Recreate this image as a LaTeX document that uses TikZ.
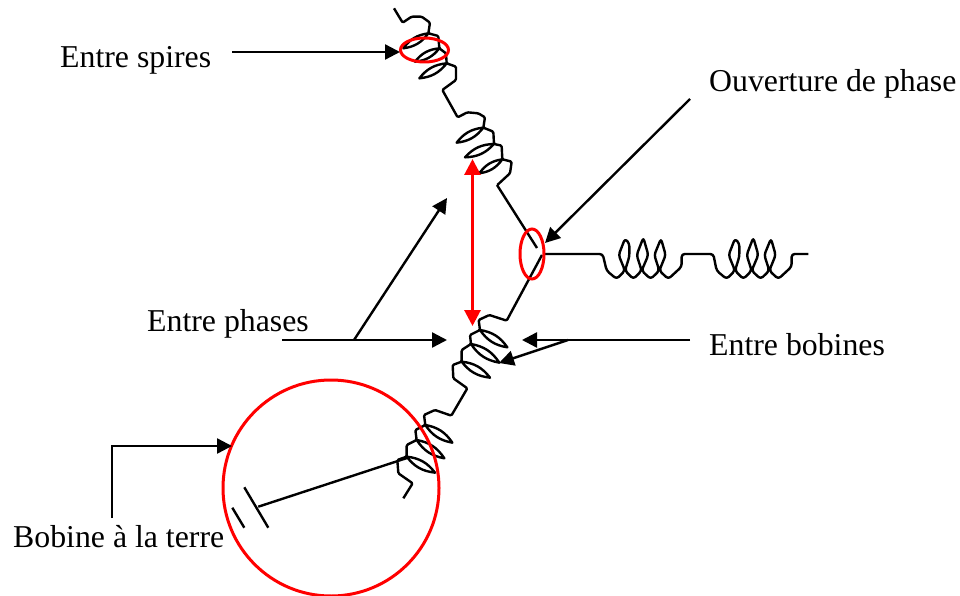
\documentclass[tikz,border=0pt]{standalone}
\usepackage{fontspec}
\setmainfont{Liberation Serif}
\usetikzlibrary{arrows.meta,shapes.geometric}
\tikzset{
  x=1pt,y=-1pt,
  wire/.style={draw=black,line width=2.4pt,line join=round,rounded corners=1.2pt},
  softwire/.style={wire,rounded corners=3pt},
  leaf/.style={draw=black,line width=2.4pt,line join=round},
  arrowline/.style={draw=black,line width=2.4pt,-{Triangle[length=15pt,width=15pt]}},
  redring/.style={draw=red,line width=3pt},
  redarrow/.style={draw=red,line width=3pt,{Triangle[length=16pt,width=16pt]}-{Triangle[length=16pt,width=16pt]}},
  lbl/.style={font=\fontsize{31.8pt}{34pt}\selectfont,inner sep=0pt,anchor=base west},
}
\newcommand{\lensleaf}[2]{\draw[leaf] #1 to[bend left=23] #2 to[bend left=23] #1;}
\begin{document}
\begin{tikzpicture}
\useasboundingbox (0,0) rectangle (960,596);
% upper coil (zoom coordinates)
\begin{scope}[shift={(380,0)},x=0.3333pt,y=-0.3333pt]
\draw[wire] (42,25)--(68,68)--(95,50)--(125,50)--(150,68)--(145,100)--(175,108)--(178,145)--(198,160)--(200,190)--(228,200)--(228,240)--(187,270)--(233,352)--(262,337)--(295,340)--(315,352)--(310,383)--(340,395)--(342,432)--(365,437)--(367,478)--(395,485)--(390,520)--(352,555);
\lensleaf{(145,100)}{(70,145)}
\lensleaf{(178,145)}{(105,185)}
\lensleaf{(200,190)}{(118,235)}
\lensleaf{(310,383)}{(230,428)}
\lensleaf{(342,432)}{(255,472)}
\lensleaf{(367,478)}{(298,520)}
\end{scope}
\draw[wire] (497,185)--(537,248);
% lower coil
\begin{scope}[shift={(390,300)},x=0.3333pt,y=-0.3333pt]
\draw[wire] (456,-135)--(350,62)--(298,45)--(266,60)--(270,90)--(240,105)--(243,132)--(215,150)--(215,185)--(188,195)--(190,235)--(232,265)--(184,347)--(135,330)--(102,345)--(106,375)--(76,390)--(80,420)--(50,435)--(50,470)--(22,480)--(25,520)--(68,550)--(40,595);
\lensleaf{(270,90)}{(352,142)}
\lensleaf{(243,132)}{(328,188)}
\lensleaf{(215,185)}{(300,233)}
\lensleaf{(106,375)}{(187,428)}
\lensleaf{(80,420)}{(163,475)}
\lensleaf{(50,470)}{(135,518)}
\end{scope}
% horizontal coil
\begin{scope}[shift={(500,200)},x=0.3333pt,y=-0.3333pt]
\draw[softwire] (135,162)--(308,162)--(320,212)--(350,237)--(375,212)--(356,165)--(375,116)--(388,130)--(388,170)--(375,212)--(400,237)--(425,212)--(410,165)--(430,113)--(445,165)--(425,212)--(452,237)--(478,212)--(463,165)--(483,116)--(497,165)--(478,212)--(505,237)--(545,200)--(545,162)--(640,162)--(650,212)--(680,237)--(705,212)--(686,165)--(705,116)--(718,130)--(718,170)--(705,212)--(730,237)--(755,212)--(740,165)--(760,113)--(775,165)--(755,212)--(782,237)--(808,212)--(793,165)--(813,116)--(827,165)--(808,212)--(835,237)--(875,200)--(875,162)--(925,162);
\end{scope}
% ground
\coordinate (gc) at (258.3,506.7);
\coordinate (gw) at (407,458);
\draw[wire] (gw)--(gc);
\draw[wire] (244.3,487.3)--(268.3,527.7);
\draw[wire] (232.3,507.7)--(244.3,527.7);
% red rings
\node[redring,ellipse,minimum width=48pt,minimum height=24pt,inner sep=0pt] (ringA) at (424.5,50) {};
\node[redring,ellipse,minimum width=24pt,minimum height=50pt,inner sep=0pt] (ringB) at (532,254) {};
\node[redring,circle,minimum size=216pt,inner sep=0pt] (ringC) at (331,488) {};
% labels
\node[lbl] (tSpires) at (60,68) {Entre spires};
\node[lbl] (tOuv) at (709,92) {Ouverture de phase};
\node[lbl] (tPhases) at (147,331) {Entre phases};
\node[lbl] (tBob) at (709,355) {Entre bobines};
\node[lbl] (tTerre) at (13,547) {Bobine à la terre};
% arrows
\coordinate (a1) at (232,52); \coordinate (a1e) at (400,52);
\draw[arrowline] (a1)--(a1e);
\coordinate (a2) at (690,99); \coordinate (a2e) at (545,243);
\draw[arrowline] (a2)--(a2e);
\coordinate (a3) at (282,340); \coordinate (a3m) at (354,340); \coordinate (a3e) at (447,340); \coordinate (a3u) at (447,198);
\draw[arrowline] (a3)--(a3e);
\draw[arrowline] (a3m)--(a3u);
\coordinate (a4) at (690,340); \coordinate (a4m) at (568,340); \coordinate (a4e) at (522,340); \coordinate (a4d) at (499,363);
\draw[arrowline] (a4)--(a4e);
\draw[arrowline] (a4m)--(a4d);
\coordinate (a5) at (112,518); \coordinate (a5c) at (112,446); \coordinate (a5e) at (232,446);
\draw[arrowline] (a5)--(a5c)--(a5e);
\coordinate (r1) at (472.5,159); \coordinate (r2) at (472.5,326);
\draw[redarrow] (r1)--(r2);
\end{tikzpicture}
\end{document}
